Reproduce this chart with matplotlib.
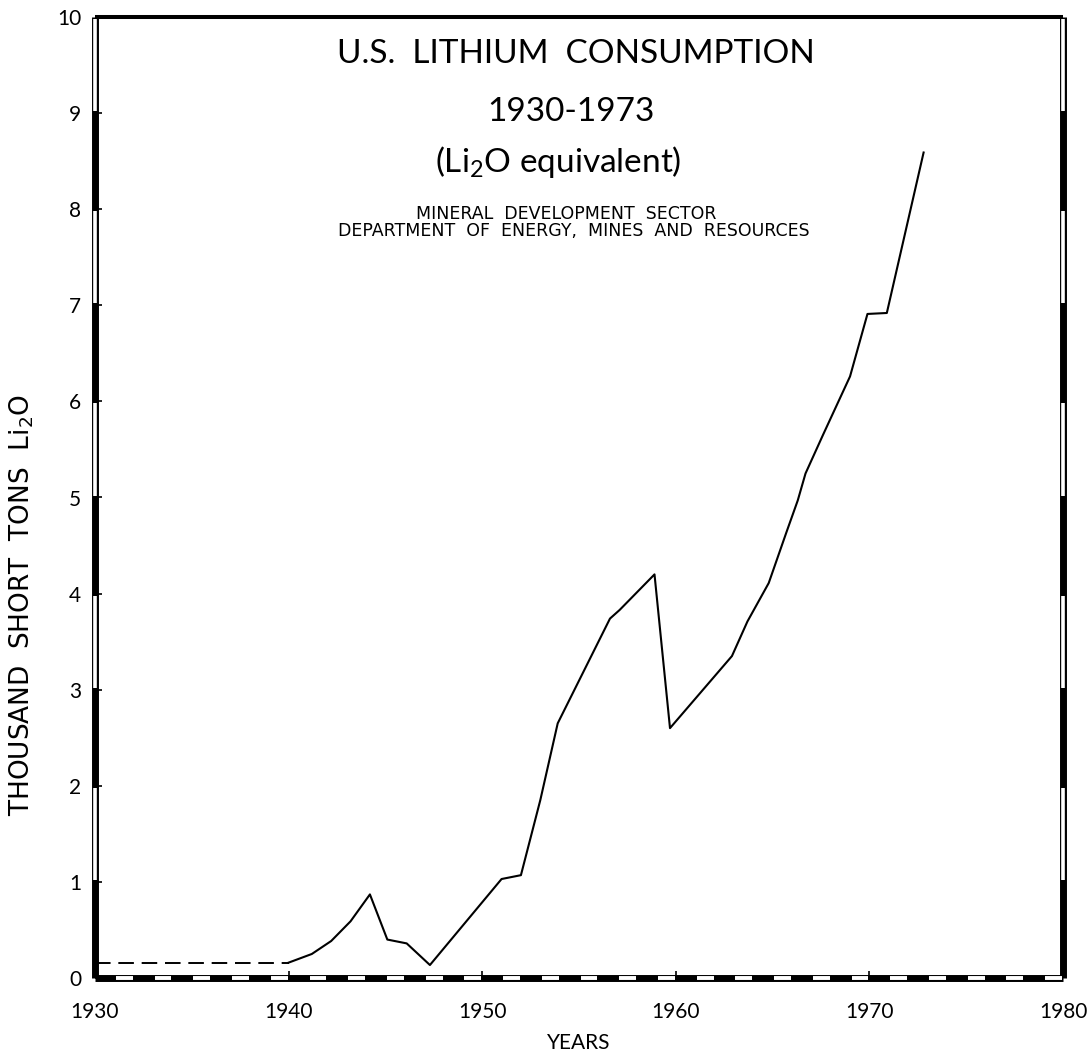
import matplotlib
matplotlib.use("Agg")
import matplotlib.pyplot as plt

plt.rcParams['font.family'] = ['Lato', 'DejaVu Sans']
plt.rcParams['mathtext.fontset'] = 'custom'
plt.rcParams['mathtext.rm'] = 'Lato'

# estimated consumption before 1940 (dashed)
est_years = [1930, 1940]
est_values = [0.16, 0.16]

# consumption, thousand short tons Li2O
years = [1940, 1941.2, 1942.2, 1943.2, 1944.2, 1945.1, 1946.1, 1947.3,
         1951, 1952, 1953, 1953.9, 1956.6, 1957.1, 1958.9, 1959.7,
         1962.9, 1963.7, 1964.8, 1965.7, 1966.3, 1966.7, 1967.6,
         1969, 1969.9, 1970.9, 1972.8]
values = [0.16, 0.25, 0.385, 0.59, 0.87, 0.40, 0.36, 0.135,
          1.03, 1.07, 1.85, 2.65, 3.74, 3.83, 4.2, 2.6,
          3.35, 3.71, 4.11, 4.63, 4.97, 5.25, 5.65,
          6.26, 6.91, 6.92, 8.59]

x_ticks = [1930, 1940, 1950, 1960, 1970, 1980]
y_ticks = list(range(0, 11))

W, H = 1090, 1057
fig = plt.figure(figsize=(W / 100, H / 100), dpi=100)
left, right, top, bottom = 95, 1063, 17, 978
ax = fig.add_axes([left / W, 1 - bottom / H, (right - left) / W, (bottom - top) / H])

ax.plot(est_years, est_values, color='black', lw=1.4, dashes=(8, 4))
ax.plot(years, values, color='black', lw=1.5)

ax.set_xlim(1930, 1980)
ax.set_ylim(0, 10)
ax.set_xticks(x_ticks)
ax.set_yticks(y_ticks)
ax.tick_params(direction='in', length=5, width=1.2, labelsize=15)
ax.tick_params(axis='x', pad=17)
ax.tick_params(axis='y', pad=10)
for s in ax.spines.values():
    s.set_visible(False)

# frame: solid top, banded left/right/bottom
kw = dict(color='black', clip_on=False, solid_capstyle='butt')
wkw = dict(color='white', clip_on=False, solid_capstyle='butt')
ax.plot([1930, 1980], [10, 10], lw=2.9, **kw)
for xs in (1930, 1980):
    ax.plot([xs, xs], [0, 10], lw=5.0, **kw)
    for k in range(1, 10, 2):
        ax.plot([xs, xs], [k + 0.02, k + 0.98], lw=2.6, **wkw)
ax.plot([1930, 1980], [0, 0], lw=5.0, **kw)
for yr in range(1931, 1980, 2):
    ax.plot([yr + 0.08, yr + 0.95], [0, 0], lw=2.8, **wkw)

ax.set_xlabel('YEARS', fontsize=15, labelpad=8)
ax.set_ylabel(r'THOUSAND  SHORT  TONS  Li$_{\mathregular{2}}$O', fontsize=19,
              family='DejaVu Sans', va='center')
ax.yaxis.set_label_coords(-(95 - 22) / (right - left), (bottom - 605) / (bottom - top))

def axpos(xp, yp):
    return (xp - left) / (right - left), (bottom - yp) / (bottom - top)

ax.text(*axpos(576, 54), 'U.S.  LITHIUM  CONSUMPTION', transform=ax.transAxes,
        ha='center', va='center', fontsize=24)
ax.text(*axpos(571, 112), '1930-1973', transform=ax.transAxes,
        ha='center', va='center', fontsize=24)
ax.text(*axpos(558, 162), r'(Li$_{\mathregular{2}}$O equivalent)', transform=ax.transAxes,
        ha='center', va='center', fontsize=24)
ax.text(*axpos(566, 214), 'MINERAL  DEVELOPMENT  SECTOR', transform=ax.transAxes,
        ha='center', va='center', fontsize=12.5, family='DejaVu Sans')
ax.text(*axpos(574, 231), 'DEPARTMENT  OF  ENERGY,  MINES  AND  RESOURCES',
        transform=ax.transAxes, ha='center', va='center', fontsize=12.5,
        family='DejaVu Sans')

fig.savefig('out.png', dpi=100)
